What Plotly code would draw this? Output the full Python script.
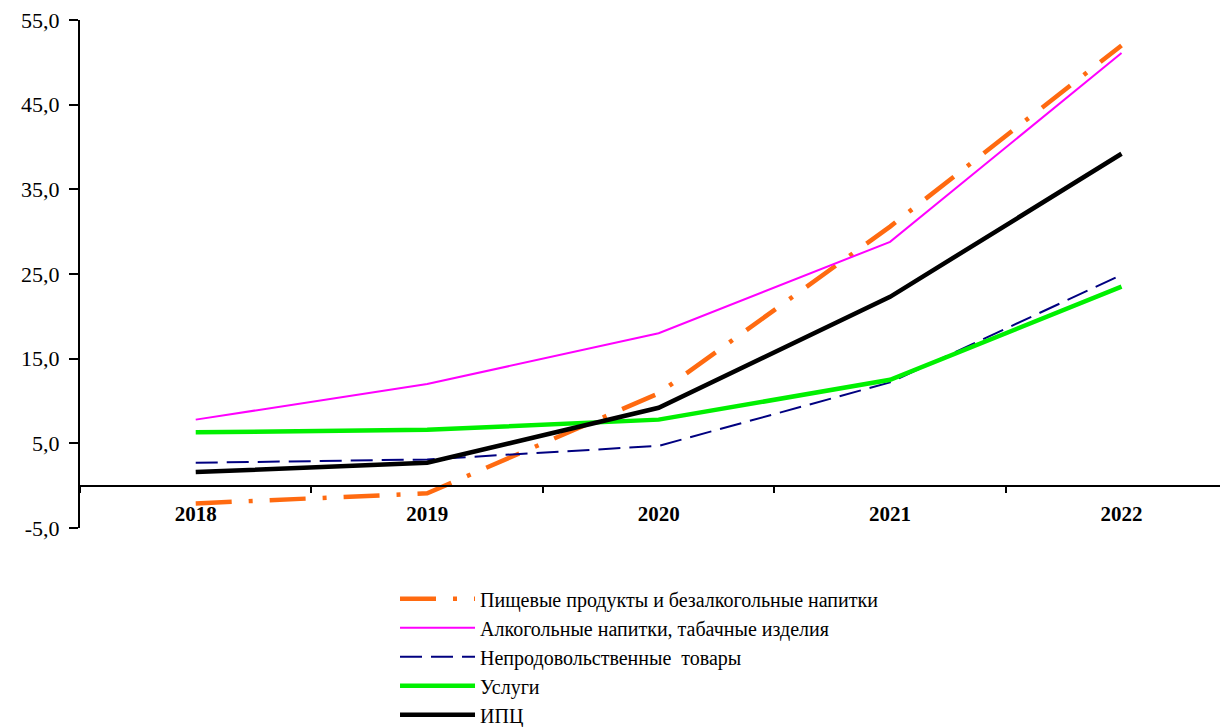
import plotly.graph_objects as go

years = ["2018", "2019", "2020", "2021", "2022"]
food = [-2.1, -0.9, 10.9, 30.6, 52.0]
alcohol = [7.8, 12.0, 18.0, 28.8, 51.1]
nonfood = [2.7, 3.1, 4.7, 12.2, 24.9]
services = [6.3, 6.6, 7.8, 12.5, 23.5]
cpi = [1.6, 2.7, 9.2, 22.3, 39.2]

y_tickvals = [-5, 5, 15, 25, 35, 45, 55]
y_ticktext = ["-5,0", "5,0", "15,0", "25,0", "35,0", "45,0", "55,0"]

names = [
    "Пищевые продукты и безалкогольные напитки",
    "Алкогольные напитки, табачные изделия",
    "Непродовольственные  товары",
    "Услуги",
    "ИПЦ",
]

SERIF = "Liberation Serif"

fig = go.Figure()
fig.add_trace(go.Scatter(x=years, y=food, name=names[0], mode="lines",
                         line=dict(color="#FF6A10", width=4.5, dash="36px,17px,4px,17px")))
fig.add_trace(go.Scatter(x=years, y=alcohol, name=names[1], mode="lines",
                         line=dict(color="#FF00FF", width=2)))
fig.add_trace(go.Scatter(x=years, y=nonfood, name=names[2], mode="lines",
                         line=dict(color="#000080", width=2, dash="22px,9px")))
fig.add_trace(go.Scatter(x=years, y=services, name=names[3], mode="lines",
                         line=dict(color="#00F000", width=4.5)))
fig.add_trace(go.Scatter(x=years, y=cpi, name=names[4], mode="lines",
                         line=dict(color="#000000", width=4.5)))

fig.update_layout(
    width=1220, height=760,
    margin=dict(l=72, r=0, t=12, b=240),
    paper_bgcolor="white", plot_bgcolor="white",
    font=dict(family=SERIF, color="black", size=20),
    showlegend=True,
    legend=dict(orientation="v", x=0.2744, y=-0.101, xanchor="left", yanchor="top",
                font=dict(family=SERIF, size=20, color="black"),
                itemwidth=75, tracegroupgap=0, bgcolor="rgba(0,0,0,0)"),
    xaxis=dict(type="category", range=[-0.5, 4.46], anchor="free", position=0.0827,
               showline=True, linecolor="black", linewidth=2,
               ticks="outside", tickson="boundaries", ticklen=6, tickwidth=2,
               tickcolor="black", showgrid=False, zeroline=False,
               ticklabelstandoff=9,
               tickfont=dict(family=SERIF, size=21, weight="bold", color="black")),
    yaxis=dict(range=[-5, 55], tickmode="array", tickvals=y_tickvals, ticktext=y_ticktext,
               showline=True, linecolor="black", linewidth=2,
               ticks="outside", ticklen=9, tickwidth=2, tickcolor="black",
               showgrid=False, zeroline=False, ticklabelstandoff=5,
               ticklabeloverflow="allow",
               tickfont=dict(family=SERIF, size=22, color="black")),
)

fig.write_html("out.html")
